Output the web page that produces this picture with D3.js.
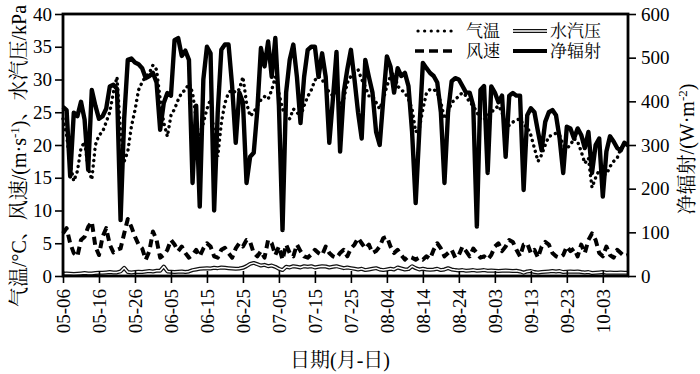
<!DOCTYPE html>
<html><head><meta charset="utf-8">
<script src="https://cdn.jsdelivr.net/npm/d3@7"></script>
<style>body{margin:0;background:#fff}svg{display:block}</style>
</head><body><svg id="c" width="700" height="374"></svg>
<script>
// ---------- data (daily, starting 05-06) ----------
const startDate = "2020-05-06";
const temperature = [
24,21.5,17,14.5,16,19.5,20.5,16.5,14.7,20,21.5,22,23.5,25,28,30.4,22,17.5,19,22.8,
25.3,28.4,29.6,30.5,31,32.2,31.5,27,23.4,21.3,24.5,25.5,26.9,28,28.4,29.4,28,24,20.3,23.4,
25.5,27,21.3,18.2,23.4,26.4,28,28.4,28,28.5,30.4,26.4,24.4,25,26,26.9,27.4,27,28.4,30.4,
27.9,25.5,24.5,24,25.5,25,24.3,26,27.4,28.4,29.9,30.5,30,29,28,27.5,28,26,27,29.5,
30.5,31,31.5,30,28.9,27.5,27.5,26.5,25.5,27,29,30.5,31,29,28.4,28,27,25.5,22,22.5,
25.5,27.9,28.5,28.5,28,26.5,24,25,26.5,26.9,27.5,28,27.5,26.5,26,25,24,23.8,24.5,25,
25.5,26,25,22.8,23,23.5,23.8,24,23,22.8,21.5,19.5,17.5,18.5,20,21.3,21.5,21.8,21.5,20,
19.5,20,21,20.5,19,17.2,18,13.5,15,16.2,15.5,15.5,16.7,17.5,18,19.5,20,20];
const windSpeed = [
6.5,7.3,5.0,3.5,3.0,5.5,6.0,7.5,8.3,4.5,3.2,6.0,7.3,4.8,3.6,4.0,4.2,6.5,8.7,7.5,
6.0,4.8,4.2,2.5,3.8,6.8,5.5,2.8,3.2,4.0,5.5,4.8,3.8,4.5,3.5,2.8,3.2,4.0,3.0,4.2,
5.0,4.5,3.0,2.8,4.0,4.3,3.5,2.8,4.2,5.0,4.5,5.5,5.2,3.5,3.0,3.8,2.8,5.5,5.0,3.2,
4.5,2.5,4.8,3.5,3.0,4.8,3.8,3.0,2.8,3.3,4.0,3.5,3.2,4.5,3.5,3.0,2.8,3.5,4.0,3.0,
4.2,4.8,5.8,5.0,4.2,4.8,3.5,3.8,4.5,5.8,6.0,4.5,3.5,4.0,3.2,2.5,3.0,2.8,2.5,2.8,
2.5,3.0,2.6,4.0,5.0,4.2,3.0,3.5,4.0,2.8,3.2,4.5,3.8,3.0,4.2,3.5,2.8,3.0,2.5,3.2,
4.5,5.0,3.8,4.5,5.5,5.2,4.0,3.0,4.8,5.0,3.5,4.0,2.8,4.5,5.2,4.8,3.5,3.0,2.8,3.2,
4.5,3.8,4.2,3.0,4.8,3.5,5.5,6.5,5.5,3.5,3.0,4.5,3.2,2.8,4.0,3.5,3.0,3.2];
const vaporPressure = [
0.35,0.4,0.35,0.3,0.35,0.4,0.45,0.4,0.4,0.45,0.5,0.5,0.55,0.6,0.55,0.55,0.7,1.25,0.6,0.55,
0.6,0.65,0.6,0.7,0.75,0.7,0.8,0.8,1.45,0.7,0.65,0.6,0.65,0.7,0.6,0.7,0.9,1.0,1.1,1.15,
1.2,1.15,1.25,1.2,1.3,1.25,1.2,1.15,1.1,1.15,1.25,1.5,1.85,2.0,1.8,1.6,1.7,1.5,1.6,1.4,
1.1,0.9,1.4,1.3,1.5,1.4,1.3,1.5,1.4,1.5,1.3,1.4,1.5,1.45,1.3,1.4,1.5,1.35,1.2,1.3,
1.2,1.1,1.0,1.1,0.9,1.0,1.1,1.2,1.0,0.9,1.0,1.1,1.0,1.3,1.15,1.0,1.05,1.5,1.2,1.0,
1.1,1.0,0.95,1.0,1.1,0.9,1.0,1.2,1.0,0.9,0.85,0.9,0.8,0.85,0.9,0.8,0.85,0.9,0.8,0.85,
0.8,0.75,0.8,0.85,0.8,0.75,0.8,0.7,0.5,0.7,0.75,0.6,0.55,0.6,0.65,0.7,0.75,0.7,0.75,0.6,
0.65,0.7,0.65,0.7,0.6,0.55,0.6,0.45,0.5,0.55,0.6,0.5,0.55,0.5,0.5,0.55,0.5,0.5];
const netRadiation = [
387,380,228,374,366,399,358,243,426,390,360,366,383,434,438,429,128,360,495,498,
489,485,476,453,458,465,443,335,396,419,413,540,545,504,516,495,213,390,159,450,
525,510,150,375,518,530,530,435,305,420,398,213,273,282,380,522,480,537,456,545,
390,105,420,495,530,456,350,456,518,525,525,456,510,456,305,405,513,285,420,473,
518,450,374,315,495,456,420,330,300,405,503,480,420,476,458,465,435,330,167,330,
488,476,465,458,443,375,213,375,446,453,450,435,420,420,390,113,426,435,236,434,
420,398,413,273,413,419,413,413,197,368,384,375,330,288,353,375,380,368,315,236,
342,338,315,338,323,293,330,236,300,315,182,285,320,308,293,288,305,300];
const tickLabels = ["05-06","05-16","05-26","06-05","06-15","06-25","07-05","07-15",
  "07-25","08-04","08-14","08-24","09-03","09-13","09-23","10-03"];
const leftTicks = [0,5,10,15,20,25,30,35,40];
const rightTicks = [0,100,200,300,400,500,600];
const seriesNames = ["气温","风速","水汽压","净辐射"];

// ---------- layout ----------
const FONT = "'Liberation Serif','Noto Serif CJK SC','Noto Sans CJK SC',serif";
const m = {l:63, r:628, t:14, b:276};
const svg = d3.select("#c").attr("font-family", FONT).style("font-family", FONT);
const parse = d3.utcParse("%Y-%m-%d");
const start = parse(startDate);
const dates = temperature.map((_, i) => d3.utcDay.offset(start, i));
const x = d3.scaleUtc().domain([start, d3.utcDay.offset(start, 157)]).range([m.l, m.r]);
const yL = d3.scaleLinear().domain([0, 40]).range([m.b, m.t]);
const yR = d3.scaleLinear().domain([0, 600]).range([m.b, m.t]);
const tickDates = tickLabels.map(s => parse("2020-" + s));

const lineL = arr => d3.line().x((d, i) => x(dates[i])).y(d => yL(d))(arr);
const lineR = arr => d3.line().x((d, i) => x(dates[i])).y(d => yR(d))(arr);

const g = svg.append("g");
// vapour pressure: double line
g.append("path").attr("d", lineL(vaporPressure)).attr("fill","none")
  .attr("stroke","#111").attr("stroke-width",4).attr("stroke-linejoin","round");
g.append("path").attr("d", lineL(vaporPressure)).attr("fill","none")
  .attr("stroke","#fff").attr("stroke-width",1.5).attr("stroke-linejoin","round");
// wind: dashed
g.append("path").attr("d", lineL(windSpeed)).attr("fill","none")
  .attr("stroke","#000").attr("stroke-width",4).attr("stroke-dasharray","8,5")
  .attr("stroke-linejoin","round");
// temperature: dotted
g.append("path").attr("d", lineL(temperature)).attr("fill","none")
  .attr("stroke","#000").attr("stroke-width",3.4).attr("stroke-dasharray","0.1,5.5")
  .attr("stroke-linecap","round");
// net radiation: thick solid
g.append("path").attr("d", lineR(netRadiation)).attr("fill","none")
  .attr("stroke","#000").attr("stroke-width",4.4).attr("stroke-linejoin","round");

// ---------- axes ----------
const axB = svg.append("g").attr("transform", `translate(0,${m.b})`)
  .call(d3.axisBottom(x).tickValues(tickDates).tickFormat((d, i) => tickLabels[i]).tickSize(7).tickSizeOuter(0))
  .attr("font-family", FONT);
axB.selectAll(".tick line").attr("y1", -5).attr("stroke-width", 1.6);
axB.selectAll(".tick text").attr("transform", "rotate(-90)").attr("text-anchor", "end")
  .attr("x", -13).attr("y", 0).attr("dy", "0.35em").style("font-size", "19px")
  .style("font-family", FONT).attr("fill", "#000");

const axL = svg.append("g").attr("transform", `translate(${m.l},0)`)
  .call(d3.axisLeft(yL).tickValues(leftTicks).tickSize(8).tickSizeOuter(0))
  .attr("font-family", FONT);
axL.selectAll(".tick text").attr("x", -11).style("font-size", "19px").style("font-family", FONT).attr("fill","#000");
axL.selectAll(".tick line").attr("stroke-width", 1.6);

const axR = svg.append("g").attr("transform", `translate(${m.r},0)`)
  .call(d3.axisRight(yR).tickValues(rightTicks).tickSize(8).tickSizeOuter(0))
  .attr("font-family", FONT);
axR.selectAll(".tick text").attr("x", 13).style("font-size", "19px").style("font-family", FONT).attr("fill","#000");
axR.selectAll(".tick line").attr("stroke-width", 1.6);
svg.selectAll(".domain").remove();

// frame
svg.append("rect").attr("x", m.l).attr("y", m.t).attr("width", m.r - m.l).attr("height", m.b - m.t)
  .attr("fill", "none").attr("stroke", "#000").attr("stroke-width", 2.8);

// ---------- titles ----------
const lt = svg.append("text").attr("transform", "translate(26,156) rotate(-90)")
  .attr("text-anchor", "middle").style("font-size", "20px");
lt.append("tspan").text("气温/°C、风速/(m·s");
lt.append("tspan").attr("dy", -7).style("font-size", "13px").text("-1");
lt.append("tspan").attr("dy", 7).text(")、水汽压/kPa");

const rt = svg.append("text").attr("transform", "translate(694,149) rotate(-90)")
  .attr("text-anchor", "middle").style("font-size", "20px");
rt.append("tspan").text("净辐射/(W·m");
rt.append("tspan").attr("dy", -7).style("font-size", "13px").text("-2");
rt.append("tspan").attr("dy", 7).text(")");

svg.append("text").attr("x", 340).attr("y", 367).attr("text-anchor", "middle")
  .style("font-size", "20px").text("日期(月-日)");

// ---------- legend ----------
const lg = svg.append("g");
const row1 = 31, row2 = 51;
lg.append("line").attr("x1", 418).attr("x2", 452).attr("y1", row1).attr("y2", row1)
  .attr("stroke", "#000").attr("stroke-width", 3.2).attr("stroke-dasharray", "0.1,6.5").attr("stroke-linecap", "round");
lg.append("line").attr("x1", 415).attr("x2", 454).attr("y1", row2).attr("y2", row2)
  .attr("stroke", "#000").attr("stroke-width", 3.6).attr("stroke-dasharray", "9,5");
lg.append("line").attr("x1", 513).attr("x2", 547).attr("y1", row1).attr("y2", row1)
  .attr("stroke", "#111").attr("stroke-width", 3.8);
lg.append("line").attr("x1", 513).attr("x2", 547).attr("y1", row1).attr("y2", row1)
  .attr("stroke", "#fff").attr("stroke-width", 1.4);
lg.append("line").attr("x1", 513).attr("x2", 547).attr("y1", row2).attr("y2", row2)
  .attr("stroke", "#000").attr("stroke-width", 3.8);
const legText = [[466, row1, seriesNames[0]], [466, row2, seriesNames[1]], [550, row1, seriesNames[2]], [550, row2, seriesNames[3]]];
legText.forEach(([lx, ly, t]) => lg.append("text").attr("x", lx).attr("y", ly + 6).style("font-size", "17px").text(t));
</script></body></html>
